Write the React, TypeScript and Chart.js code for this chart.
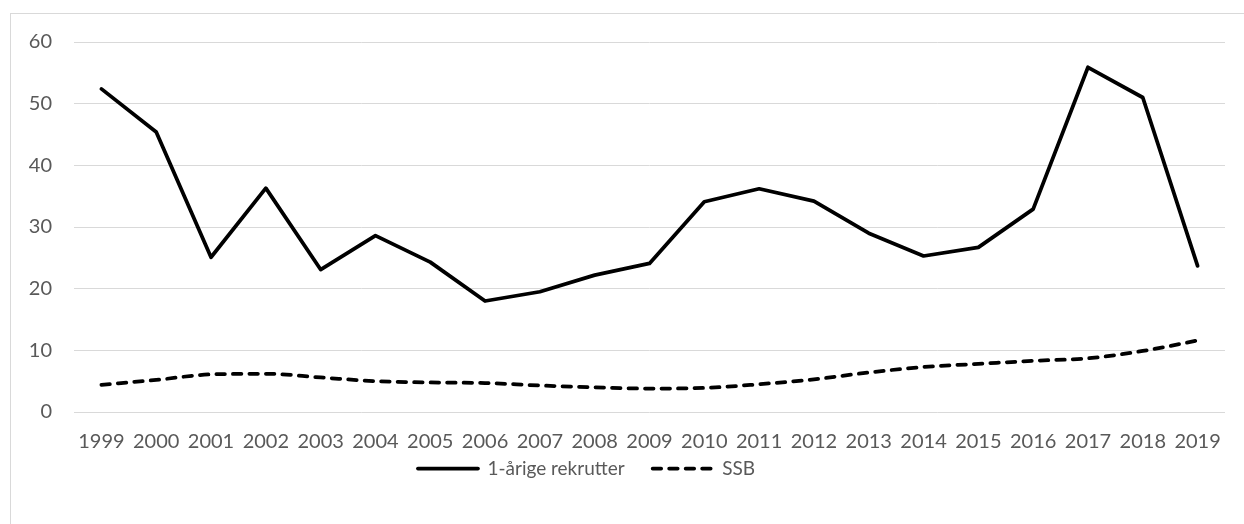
import React, { useEffect, useRef } from 'react';
import { Chart, registerables } from 'chart.js';

Chart.register(...registerables);

const years = ['1999', '2000', '2001', '2002', '2003', '2004', '2005', '2006', '2007', '2008', '2009', '2010', '2011', '2012', '2013', '2014', '2015', '2016', '2017', '2018', '2019'];
const recruits = [52.4, 45.4, 25.1, 36.3, 23.1, 28.6, 24.3, 18.0, 19.5, 22.2, 24.1, 34.1, 36.2, 34.2, 29.0, 25.3, 26.7, 32.9, 55.9, 51.0, 23.7];
const ssb = [4.4, 5.2, 6.1, 6.2, 5.6, 5.0, 4.8, 4.7, 4.3, 4.0, 3.8, 3.9, 4.5, 5.3, 6.4, 7.3, 7.8, 8.3, 8.7, 9.9, 11.6];
const seriesNames = ['1-årige rekrutter', 'SSB'];
const yMin = 0;
const yMax = 60;
const yStep = 10;

const FONT = 'Lato, "Open Sans", sans-serif';
const TEXT = '#595959';
const GRID = '#d9d9d9';
const DASH = [8.5, 8];

export default function App() {
  const ref = useRef<HTMLCanvasElement | null>(null);

  useEffect(() => {
    if (!ref.current) return;
    const legendShift = {
      id: 'legendShift',
      afterLayout(chart: any) {
        const l = chart.legend;
        if (l) {
          l.left = 0;
          l.right = 1173;
          l.top -= 17;
          l.bottom -= 17;
        }
      },
    };
    const chart = new Chart(ref.current, {
      type: 'line',
      data: {
        labels: years,
        datasets: [
          {
            label: seriesNames[0],
            data: recruits,
            borderColor: '#000000',
            backgroundColor: '#000000',
            borderWidth: 3.75,
            pointRadius: 0,
            tension: 0,
            borderCapStyle: 'round',
            borderJoinStyle: 'round',
          },
          {
            label: seriesNames[1],
            data: ssb,
            borderColor: '#000000',
            backgroundColor: '#000000',
            borderWidth: 3.75,
            borderDash: DASH,
            pointRadius: 0,
            tension: 0.4,
            cubicInterpolationMode: 'monotone',
            borderCapStyle: 'round',
            borderJoinStyle: 'round',
          },
        ],
      },
      options: {
        responsive: false,
        animation: false,
        layout: { padding: { left: 0, right: 19, top: 42, bottom: 19 } },
        scales: {
          x: {
            offset: true,
            grid: { display: false, drawTicks: false },
            border: { display: false },
            ticks: {
              color: TEXT,
              font: { family: FONT, size: 20 },
              padding: 18,
              maxRotation: 0,
              autoSkip: false,
            },
            afterFit: (s: any) => {
              s.height = 36;
            },
          },
          y: {
            min: yMin,
            max: yMax,
            grid: { color: GRID, lineWidth: 1, drawTicks: false },
            border: { display: false },
            ticks: {
              stepSize: yStep,
              color: TEXT,
              font: { family: FONT, size: 20 },
              padding: 22,
            },
            afterFit: (s: any) => {
              s.width = 74;
            },
          },
        },
        plugins: {
          legend: {
            position: 'bottom',
            labels: {
              usePointStyle: true,
              pointStyle: 'line',
              pointStyleWidth: 60,
              color: TEXT,
              font: { family: FONT, size: 19 },
              padding: 28,
              generateLabels: (c: any) => {
                const items = Chart.defaults.plugins.legend.labels.generateLabels(c);
                items.forEach((it: any) => {
                  const ds: any = c.data.datasets[it.datasetIndex];
                  it.lineDash = ds.borderDash || [];
                  it.lineCap = ds.borderCapStyle || 'butt';
                  it.lineWidth = ds.borderWidth;
                  it.strokeStyle = ds.borderColor;
                });
                return items;
              },
            },
          },
          tooltip: { enabled: false },
        },
      },
      plugins: [legendShift],
    } as any);
    return () => chart.destroy();
  }, []);

  return (
    <div style={{ position: 'fixed', left: 0, top: 0, width: 1244, height: 524, overflow: 'hidden', background: '#ffffff' }}>
      <div
        style={{
          position: 'absolute',
          left: 10,
          top: 13,
          width: 1400,
          height: 700,
          borderLeft: `1px solid ${GRID}`,
          borderTop: `1px solid ${GRID}`,
        }}
      />
      <canvas ref={ref} width={1244} height={524} style={{ position: 'absolute', left: 0, top: 0, width: 1244, height: 524 }} />
    </div>
  );
}
